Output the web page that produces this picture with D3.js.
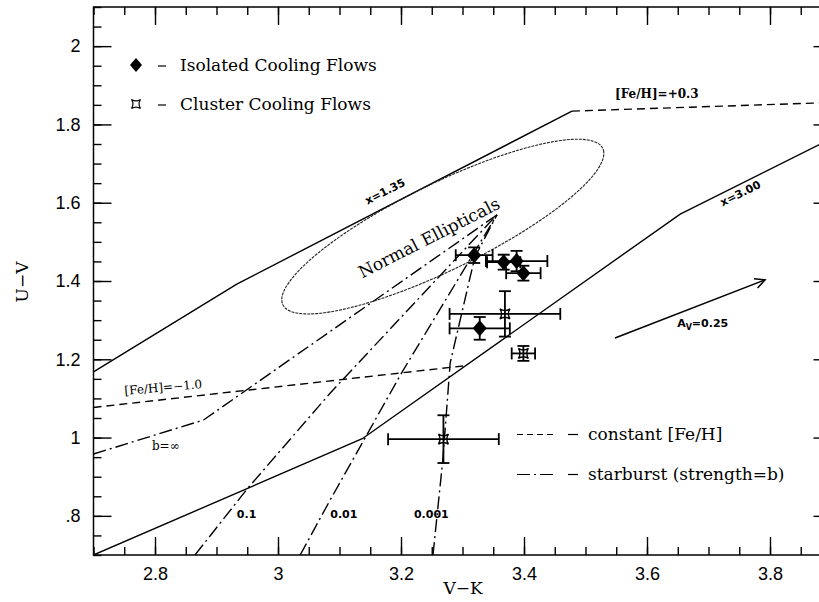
<!DOCTYPE html>
<html>
<head>
<meta charset="utf-8">
<script src="https://cdn.jsdelivr.net/npm/d3@7/dist/d3.min.js"></script>
<style>
body {margin: 0; background: #fff;}
text {fill: #000;}
</style>
</head>
<body>
<div id="chart"></div>
<script>
// isolated cooling flows (diamonds)
const isoVK = [3.319, 3.367, 3.388, 3.399, 3.328];
const isoUV = [1.466, 1.448, 1.451, 1.420, 1.279];
const isoErrVK = [0.030, 0.027, 0.050, 0.028, 0.049];
const isoErrUV = [0.020, 0.019, 0.026, 0.019, 0.029];

// cluster cooling flows (stars)
const clVK = [3.369, 3.399, 3.269];
const clUV = [1.316, 1.215, 0.996];
const clErrVK = [0.090, 0.019, 0.090];
const clErrUV = [0.058, 0.019, 0.061];

// model tracks
const x135VK = [2.70, 2.933, 3.478];
const x135UV = [1.168, 1.392, 1.834];
const x300VK = [2.70, 3.137, 3.654, 3.90];
const x300UV = [0.700, 0.997, 1.571, 1.764];
const feHp03VK = [3.478, 3.90];
const feHp03UV = [1.834, 1.856];
const feHm10VK = [2.70, 3.301];
const feHm10UV = [1.077, 1.183];

// starburst tracks, b = inf, 0.1, 0.01, 0.001
const burstInfVK = [2.70, 2.879, 3.356];
const burstInfUV = [0.958, 1.045, 1.569];
const burst01VK = [2.865, 2.950, 3.085, 3.356];
const burst01UV = [0.700, 0.869, 1.114, 1.569];
const burst001VK = [3.036, 3.085, 3.202, 3.356];
const burst001UV = [0.700, 0.841, 1.168, 1.569];
const burst0001VK = [3.252, 3.268, 3.280, 3.320, 3.356];
const burst0001UV = [0.700, 0.943, 1.191, 1.461, 1.569];

// normal ellipticals region: centre and two semi-axis vectors
const ellCenter = [3.268, 1.539];
const ellAxisA = [0.260, 0.200];
const ellAxisB = [0.031, -0.099];

// reddening vector A_V = 0.25
const avVK = [3.548, 3.792];
const avUV = [1.2545, 1.403];

// ticks
const xTicks = [2.8, 3, 3.2, 3.4, 3.6, 3.8];
const xTickLabels = ["2.8", "3", "3.2", "3.4", "3.6", "3.8"];
const yTicks = [0.8, 1, 1.2, 1.4, 1.6, 1.8, 2];
const yTickLabels = [".8", "1", "1.2", "1.4", "1.6", "1.8", "2"];

let width = 819, height = 602;
let svg = d3.select("#chart").append("svg")
    .attr("width", width).attr("height", height)
    .style("font-family", "'DejaVu Serif', serif");

let xScale = d3.scaleLinear().domain([2.7, 3.9]).range([93.5, 831.5]);
let yScale = d3.scaleLinear().domain([0.7, 2.1]).range([555, 7]);
let x0 = xScale(2.7), x1 = xScale(3.9), y0 = yScale(0.7), y1 = yScale(2.1);

svg.append("defs").append("clipPath").attr("id", "plotclip")
    .append("rect").attr("x", x0).attr("y", y1).attr("width", x1 - x0).attr("height", y0 - y1);
svg.select("defs").append("marker").attr("id", "arr")
    .attr("markerUnits", "userSpaceOnUse").attr("viewBox", "-12 -7 14 14")
    .attr("markerWidth", 14).attr("markerHeight", 14).attr("refX", 0).attr("refY", 0)
    .attr("orient", "auto")
    .append("path").attr("d", "M-10,-5 L0,0 L-10,5").attr("fill", "none")
    .attr("stroke", "#000").attr("stroke-width", 1.5);

// axes: minor ticks every 0.05, major every 0.2, all pointing inward
let xMinor = d3.range(2.7, 3.9001, 0.05).map(d => +d.toFixed(2));
let yMinor = d3.range(0.7, 2.1001, 0.05).map(d => +d.toFixed(2));

function styleAxis(g) {
    g.select(".domain").remove();
    g.selectAll(".tick line").attr("stroke", "#000").attr("stroke-width", 1.4);
    g.selectAll(".tick text").style("font-family", "'Liberation Sans', Arial, sans-serif")
        .style("font-size", "18px").attr("fill", "#000");
}

svg.append("g").attr("transform", "translate(0," + y0 + ")")
    .call(d3.axisBottom(xScale).tickValues(xMinor).tickSize(-8).tickFormat("")).call(styleAxis);
svg.append("g").attr("transform", "translate(0," + y0 + ")")
    .call(d3.axisBottom(xScale).tickValues(xTicks).tickSize(-18).tickPadding(12)
        .tickFormat((d, i) => xTickLabels[i])).call(styleAxis);
svg.append("g").attr("transform", "translate(0," + y1 + ")")
    .call(d3.axisTop(xScale).tickValues(xMinor).tickSize(-8).tickFormat("")).call(styleAxis);
svg.append("g").attr("transform", "translate(0," + y1 + ")")
    .call(d3.axisTop(xScale).tickValues(xTicks).tickSize(-18).tickFormat("")).call(styleAxis);

svg.append("g").attr("transform", "translate(" + x0 + ",0)")
    .call(d3.axisLeft(yScale).tickValues(yMinor).tickSize(-8).tickFormat("")).call(styleAxis);
svg.append("g").attr("transform", "translate(" + x0 + ",0)")
    .call(d3.axisLeft(yScale).tickValues(yTicks).tickSize(-18).tickPadding(13)
        .tickFormat((d, i) => yTickLabels[i])).call(styleAxis);
svg.append("g").attr("transform", "translate(" + x1 + ",0)")
    .call(d3.axisRight(yScale).tickValues(yMinor).tickSize(-8).tickFormat("")).call(styleAxis);
svg.append("g").attr("transform", "translate(" + x1 + ",0)")
    .call(d3.axisRight(yScale).tickValues(yTicks).tickSize(-18).tickFormat("")).call(styleAxis);

svg.append("rect").attr("x", x0).attr("y", y1).attr("width", x1 - x0).attr("height", y0 - y1)
    .attr("fill", "none").attr("stroke", "#000").attr("stroke-width", 1.5);

// axis titles
svg.append("text").attr("x", 463).attr("y", 594).attr("text-anchor", "middle")
    .style("font-size", "17px").text("V−K");
svg.append("text").attr("transform", "translate(28,282) rotate(-90)").attr("text-anchor", "middle")
    .style("font-size", "17px").text("U−V");

let plot = svg.append("g").attr("clip-path", "url(#plotclip)");
let line = d3.line().x(d => xScale(d[0])).y(d => yScale(d[1]));

function track(vk, uv, dash) {
    plot.append("path").datum(d3.zip(vk, uv)).attr("d", line)
        .attr("fill", "none").attr("stroke", "#000").attr("stroke-width", 1.4)
        .attr("stroke-dasharray", dash);
}
track(x135VK, x135UV, null);
track(x300VK, x300UV, null);
track(feHp03VK, feHp03UV, "8,5");
track(feHm10VK, feHm10UV, "8,5");
track(burstInfVK, burstInfUV, "13,4,2,4");
track(burst01VK, burst01UV, "13,4,2,4");
track(burst001VK, burst001UV, "13,4,2,4");
track(burst0001VK, burst0001UV, "13,4,2,4");

// ellipse of normal ellipticals
let ellPts = d3.range(0, 361, 3).map(a => {
    let t = a * Math.PI / 180;
    return [ellCenter[0] + Math.cos(t) * ellAxisA[0] + Math.sin(t) * ellAxisB[0],
            ellCenter[1] + Math.cos(t) * ellAxisA[1] + Math.sin(t) * ellAxisB[1]];
});
plot.append("path").datum(ellPts).attr("d", line.curve(d3.curveCardinalClosed))
    .attr("fill", "none").attr("stroke", "#222").attr("stroke-width", 1.1)
    .attr("stroke-dasharray", "3,1");
line.curve(d3.curveLinear);

// reddening arrow
plot.append("path").datum(d3.zip(avVK, avUV)).attr("d", line)
    .attr("fill", "none").attr("stroke", "#000").attr("stroke-width", 1.5)
    .attr("marker-end", "url(#arr)");

// markers
let diamond = (w, h) => "M0," + (-h) + "L" + w + ",0L0," + h + "L" + (-w) + ",0Z";
let star = s => "M" + (-s) + "," + (-s) + "Q0," + (-s * 0.35) + " " + s + "," + (-s) +
    "Q" + (s * 0.35) + ",0 " + s + "," + s + "Q0," + (s * 0.35) + " " + (-s) + "," + s +
    "Q" + (-s * 0.35) + ",0 " + (-s) + "," + (-s) + "Z";

function errorBars(vk, uv, evk, euv) {
    let g = plot.append("g").attr("stroke", "#000").attr("stroke-width", 1.8);
    vk.forEach((v, i) => {
        let cx = xScale(v), cy = yScale(uv[i]);
        let xl = xScale(v - evk[i]), xr = xScale(v + evk[i]);
        let yt = yScale(uv[i] + euv[i]), yb = yScale(uv[i] - euv[i]);
        g.append("line").attr("x1", xl).attr("x2", xr).attr("y1", cy).attr("y2", cy);
        g.append("line").attr("x1", xl).attr("x2", xl).attr("y1", cy - 6).attr("y2", cy + 6);
        g.append("line").attr("x1", xr).attr("x2", xr).attr("y1", cy - 6).attr("y2", cy + 6);
        g.append("line").attr("x1", cx).attr("x2", cx).attr("y1", yt).attr("y2", yb);
        g.append("line").attr("x1", cx - 6).attr("x2", cx + 6).attr("y1", yt).attr("y2", yt);
        g.append("line").attr("x1", cx - 6).attr("x2", cx + 6).attr("y1", yb).attr("y2", yb);
    });
}
errorBars(isoVK, isoUV, isoErrVK, isoErrUV);
errorBars(clVK, clUV, clErrVK, clErrUV);

plot.selectAll(".iso").data(d3.zip(isoVK, isoUV)).enter().append("path").attr("class", "iso")
    .attr("transform", d => "translate(" + xScale(d[0]) + "," + yScale(d[1]) + ")")
    .attr("d", diamond(7, 8)).attr("fill", "#000");
plot.selectAll(".cl").data(d3.zip(clVK, clUV)).enter().append("path").attr("class", "cl")
    .attr("transform", d => "translate(" + xScale(d[0]) + "," + yScale(d[1]) + ")")
    .attr("d", star(5)).attr("fill", "none").attr("stroke", "#000").attr("stroke-width", 1.4);

// annotations
function note(vk, uv, str, angle, font, size, weight) {
    return svg.append("text")
        .attr("transform", "translate(" + xScale(vk) + "," + yScale(uv) + ") rotate(" + angle + ")")
        .style("font-family", font).style("font-size", size + "px").style("font-weight", weight || "normal")
        .text(str);
}
const sans = "'DejaVu Sans', sans-serif", serif = "'DejaVu Serif', serif";
note(3.177, 1.620, "x=1.35", -27.3, sans, 11, "bold").attr("text-anchor", "middle");
note(3.7545, 1.615, "x=3.00", -26.4, sans, 11, "bold").attr("text-anchor", "middle");
note(3.548, 1.867, "[Fe/H]=+0.3", 0, serif, 12, "bold");
note(2.751, 1.109, "[Fe/H]=−1.0", -5, serif, 12);
note(2.795, 0.969, "b=∞", 0, serif, 12);
note(2.933, 0.795, "0.1", 0, sans, 11, "bold");
note(3.085, 0.795, "0.01", 0, sans, 11, "bold");
note(3.221, 0.795, "0.001", 0, sans, 11, "bold");
note(3.250, 1.497, "Normal Ellipticals", -27, serif, 17).attr("text-anchor", "middle");
let av = note(3.649, 1.283, "A", 0, sans, 11, "bold");
av.append("tspan").attr("dy", 3).style("font-size", "8px").text("V");
av.append("tspan").attr("dy", -3).text("=0.25");

// legend, top left
let leg = svg.append("g").style("font-size", "17px");
leg.append("path").attr("transform", "translate(136,65)").attr("d", diamond(6, 7)).attr("fill", "#000");
leg.append("path").attr("transform", "translate(136,104)").attr("d", star(4.5))
    .attr("fill", "none").attr("stroke", "#000").attr("stroke-width", 1.2);
[66, 105].forEach(y => leg.append("line").attr("x1", 158).attr("x2", 166).attr("y1", y).attr("y2", y)
    .attr("stroke", "#000").attr("stroke-width", 1.2));
leg.append("text").attr("x", 180).attr("y", 71).text("Isolated Cooling Flows");
leg.append("text").attr("x", 180).attr("y", 110).text("Cluster Cooling Flows");

// legend, bottom right
let leg2 = svg.append("g").style("font-size", "17px");
leg2.append("line").attr("x1", 517).attr("x2", 555).attr("y1", 434.5).attr("y2", 434.5)
    .attr("stroke", "#000").attr("stroke-width", 1.2).attr("stroke-dasharray", "6,4");
leg2.append("line").attr("x1", 517).attr("x2", 555).attr("y1", 474.5).attr("y2", 474.5)
    .attr("stroke", "#000").attr("stroke-width", 1.2).attr("stroke-dasharray", "13,4,2,4");
[434.5, 474.5].forEach(y => leg2.append("line").attr("x1", 568).attr("x2", 578).attr("y1", y).attr("y2", y)
    .attr("stroke", "#000").attr("stroke-width", 1.2));
leg2.append("text").attr("x", 588).attr("y", 440).text("constant [Fe/H]");
leg2.append("text").attr("x", 588).attr("y", 480).text("starburst (strength=b)");
</script>
</body>
</html>
